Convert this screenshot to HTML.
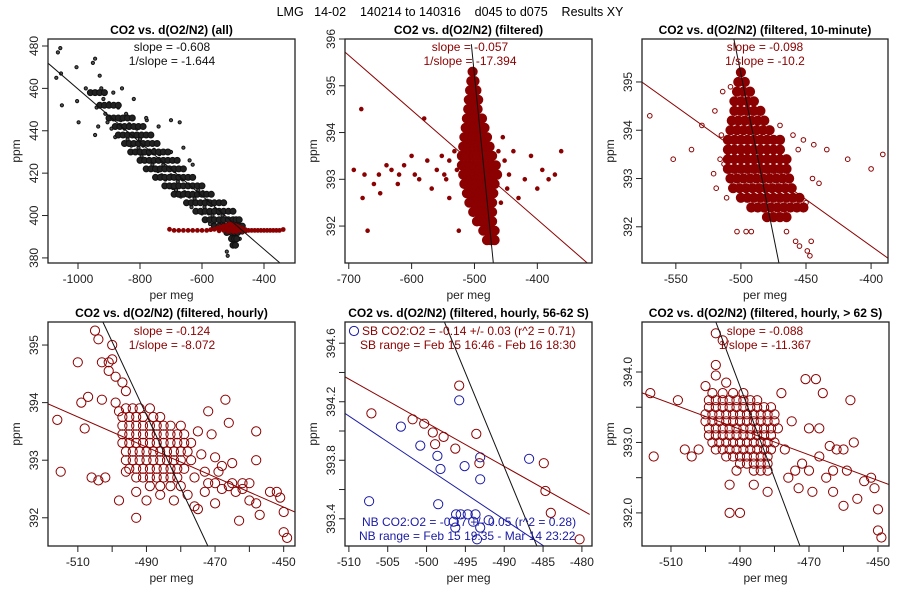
<!DOCTYPE html>
<html><head><meta charset="utf-8">
<style>
html,body{margin:0;padding:0;background:#fff;}
svg{display:block;font-family:"Liberation Sans",sans-serif;}
</style></head>
<body>
<svg id="chart" width="900" height="600" viewBox="0 0 900 600" xmlns="http://www.w3.org/2000/svg">
<rect x="0" y="0" width="900" height="600" fill="#fff"/>
<text x="450" y="16" text-anchor="middle" font-size="12.5" fill="#000" xml:space="preserve">LMG   14-02    140214 to 140316    d045 to d075    Results XY</text>
</svg>
<script>
// ---------- data ----------
const p1All = [[-1065,477],[-1057,479],[-1070,465],[-1055,467],[-1052,452],[-1005,470],[-1003,454],[-998,444],[-975,460],[-952,472],[-945,474],[-940,451],[-945,438],[-935,442],[-930,466],[-925,460],[-918,455],[-912,448],[-905,444],[-900,453],[-892,441],[-886,458],[-880,437],[-870,451],[-862,445],[-858,460],[-850,441],[-845,448],[-840,436],[-835,443],[-828,433],[-822,438],[-815,430],[-810,441],[-805,432],[-800,436],[-795,428],[-790,433],[-784,426],[-778,445],[-772,429],[-766,434],[-760,424],[-755,431],[-748,426],[-742,421],[-737,429],[-730,419],[-725,424],[-718,417],[-712,422],[-706,414],[-700,445],[-700,419],[-694,413],[-688,421],[-684,412],[-678,416],[-672,444],[-668,409],[-662,417],[-656,411],[-650,406],[-645,414],[-640,409],[-634,404],[-628,418],[-624,408],[-618,402],[-612,412],[-606,406],[-600,401],[-597,411],[-592,404],[-588,398],[-583,407],[-578,401],[-574,396],[-570,405],[-566,400],[-562,396],[-558,403],[-554,398],[-550,395],[-546,401],[-542,397],[-538,394],[-534,400],[-530,396],[-526,393],[-522,398],[-518,395],[-514,392],[-510,397],[-506,394],[-502,391],[-498,396],[-494,393],[-490,390],[-486,395],[-482,392],[-478,389],[-474,394],[-470,392],[-495,386],[-500,388],[-520,383],[-517,381],[-640,426],[-630,424],[-660,432],[-700,430],[-740,442],[-780,446],[-820,455]];
const p1CoreRows = [
 [458,[-960,-945,-930,-915]],[452,[-930,-915,-900,-885,-870]],[446,[-900,-885,-870,-855,-840,-825]],
 [442,[-880,-865,-850,-835,-820,-805,-790]],[438,[-870,-855,-840,-825,-810,-795,-780,-765]],
 [434,[-850,-835,-820,-805,-790,-775,-760,-745]],[430,[-830,-815,-800,-785,-770,-755,-740,-725,-710]],
 [426,[-800,-785,-770,-755,-740,-725,-710,-695,-680]],[422,[-780,-765,-750,-735,-720,-705,-690,-675,-660]],
 [418,[-750,-735,-720,-705,-690,-675,-660,-645,-630]],[414,[-720,-705,-690,-675,-660,-645,-630,-615,-600]],
 [410,[-690,-675,-660,-645,-630,-615,-600,-585,-570]],[406,[-650,-635,-620,-605,-590,-575,-560,-545,-530]],
 [402,[-620,-605,-590,-575,-560,-545,-530,-515,-500]],[398,[-590,-575,-560,-545,-530,-515,-500,-490,-480]],
 [395,[-560,-545,-530,-515,-500,-490,-480,-470]],[392,[-520,-505,-495,-485]],[389,[-505,-495,-488]],[386,[-500,-492]]];
const p1Filt = [[-705,393.5],[-690,393],[-675,393],[-660,393],[-645,393],[-630,393],[-615,393],[-600,393],[-585,393],[-572,393.3],[-560,393.5],[-550,394],[-540,394.5],[-530,395],[-520,395.5],[-510,396],[-500,395.8],[-490,395.2],[-480,394.5],[-470,393.8],[-460,393.3],[-450,393],[-440,393],[-430,393],[-420,393],[-410,393],[-400,393],[-390,393],[-380,393],[-370,393],[-360,393],[-350,393],[-338,393.4],[-530,393],[-515,392.5],[-500,392.5],[-490,392.5],[-520,394],[-505,394.5],[-495,394],[-480,393],[-470,392.8],[-545,392.8],[-510,393.5],[-485,393.8],[-460,392.6]];
const p1Slope = -0.126, p1Int = 333.7;

const p2Pts = [[-692,393.2],[-680,394.5],[-678,392.6],[-675,393.1],[-670,391.9],[-660,392.9],[-652,393.1],[-640,393.3],[-632,393.2],[-622,392.9],[-612,393.3],[-600,393.5],[-595,393.1],[-588,393.0],[-580,394.3],[-575,393.4],[-568,392.8],[-560,393.2],[-552,393.5],[-545,393.0],[-540,392.6],[-532,393.6],[-528,393.2],[-445,393.1],[-438,393.6],[-430,392.6],[-420,393.0],[-410,393.5],[-400,392.8],[-392,393.2],[-382,393.0],[-372,393.1],[-362,393.6],[-452,393.4],[-458,392.5],[-470,391.8],[-525,391.9],[-540,393.4],[-548,393.1],[-462,393.6],[-455,393.9],[-448,392.8],[-620,393.1],[-650,392.7]];
const p2CoreRows = [
 [395.3,[-503]],[395.1,[-505,-500]],[394.9,[-507,-502,-497]],[394.7,[-509,-504,-499,-494]],[394.5,[-510,-505,-500,-495]],
 [394.3,[-512,-506,-500,-494,-488]],[394.1,[-514,-508,-502,-496,-490,-484]],[393.9,[-516,-510,-504,-498,-492,-486,-480]],
 [393.7,[-518,-512,-506,-500,-494,-488,-482,-476]],[393.5,[-520,-514,-508,-502,-496,-490,-484,-478,-472]],
 [393.3,[-520,-514,-508,-502,-496,-490,-484,-478,-472,-466]],[393.1,[-518,-512,-506,-500,-494,-488,-482,-476,-470,-464]],
 [392.9,[-516,-510,-504,-498,-492,-486,-480,-474,-468]],[392.7,[-512,-506,-500,-494,-488,-482,-476,-470]],
 [392.5,[-508,-502,-496,-490,-484,-478,-472]],[392.3,[-502,-496,-490,-484,-478,-472]],[392.1,[-496,-490,-484,-478,-472]],
 [391.9,[-486,-480,-474,-468]],[391.7,[-480,-474,-468]]];
const p2Slope = -0.0117, p2Int = 387.46;
const p2Black = [[-505,395.89],[-470,391.21]];

const p3Pts = [[-570,394.3],[-552,393.4],[-538,393.6],[-530,394.1],[-520,394.4],[-521,393.1],[-519,392.8],[-514,394.8],[-513,393.3],[-511,392.6],[-508,394.9],[-506,392.8],[-503,391.9],[-496,391.9],[-492,391.9],[-465,391.9],[-458,391.7],[-455,391.6],[-449,391.5],[-446,391.7],[-447,391.4],[-456,393.6],[-444,393.7],[-434,393.6],[-418,393.4],[-400,393.2],[-391,393.5],[-445,393.0],[-440,392.9],[-452,393.8],[-450,392.5],[-460,393.9],[-470,394.1],[-515,393.9],[-516,393.4]];
const p3CoreRows = [
 [395.2,[-500]],[395.0,[-502,-497]],[394.8,[-503,-498,-493]],[394.6,[-505,-500,-495,-490]],[394.4,[-505,-500,-495,-490,-485]],
 [394.2,[-507,-502,-497,-492,-487,-482]],[394.0,[-508,-503,-498,-493,-488,-483,-478]],
 [393.8,[-510,-505,-500,-495,-490,-485,-480,-475,-470]],[393.6,[-510,-505,-500,-495,-490,-485,-480,-475,-470]],
 [393.4,[-510,-505,-500,-495,-490,-485,-480,-475,-470,-465]],[393.2,[-510,-505,-500,-495,-490,-485,-480,-475,-470,-465]],
 [393.0,[-508,-503,-498,-493,-488,-483,-478,-473,-468,-463]],[392.8,[-506,-501,-496,-491,-486,-481,-476,-471,-466,-461]],
 [392.6,[-500,-495,-490,-485,-480,-475,-470,-465,-460,-455]],[392.4,[-492,-487,-482,-477,-472,-467,-462,-457,-452]],
 [392.2,[-480,-475,-470,-465]]];
const p3Slope = -0.0193, p3Int = 383.88;
const p3Black = [[-505.4,395.89],[-470.8,391.25]];

const p4Pts = [[-516,393.7],[-515,392.8],[-510,394.7],[-509,394.0],[-508,393.55],[-507,394.1],[-506,392.7],[-504,392.65],[-505,395.25],[-504,395.1],[-503,394.7],[-503,394.05],[-502,392.7],[-501,394.7],[-501,394.55],[-500,395.0],[-500,394.75],[-499,394.45],[-499,394.0],[-498,393.85],[-498,392.3],[-497,394.35],[-496,394.2],[-496,392.8],[-493,392.45],[-493,392.0],[-490,392.3],[-486,392.4],[-482,392.3],[-476,392.7],[-475,393.5],[-475,392.15],[-474,393.1],[-473,392.45],[-472,393.85],[-472,392.6],[-471,393.45],[-470,393.05],[-470,392.25],[-469,392.8],[-468,392.5],[-467,394.05],[-466,393.65],[-466,392.55],[-465,392.95],[-464,392.45],[-463,391.95],[-462,392.6],[-460,392.3],[-458,393.5],[-458,393.0],[-458,392.25],[-457,392.05],[-454,392.45],[-452,392.45],[-451,392.35],[-450,392.1],[-450,391.75],[-449,391.65],[-478,392.4],[-476,392.2],[-473,392.8],[-470,392.6],[-468,392.9],[-465,392.6],[-462,392.5],[-460,392.6]];
const p4CoreRows = [
 [393.9,[-496,-494,-492,-489]],[393.75,[-497,-495,-493,-491,-488,-486]],[393.6,[-497,-495,-493,-491,-489,-487,-485,-483,-480]],
 [393.45,[-497,-495,-493,-491,-489,-487,-485,-483,-481,-479]],[393.3,[-497,-495,-493,-491,-489,-487,-485,-483,-481,-479,-477]],
 [393.15,[-496,-494,-492,-490,-488,-486,-484,-482,-480,-478]],[393.0,[-496,-494,-492,-490,-488,-486,-484,-482,-480,-477]],
 [392.85,[-495,-493,-491,-489,-487,-485,-483,-481,-479]],[392.7,[-493,-491,-489,-487,-485,-483,-481]],[392.55,[-489,-486,-483,-480]]];
const p4Slope = -0.0261, p4Int = 380.44;
const p4Black = [[-502.7,395.4],[-472.1,391.51]];

const p5Red = [[-507.1,394.12],[-501.8,394.08],[-500.3,394.05],[-499.2,393.99],[-497.8,393.96],[-498.9,393.91],[-495.8,394.31],[-493.6,393.98],[-496.3,393.88],[-493.2,393.78],[-484.9,393.78],[-484.7,393.59],[-484.0,393.44],[-480.3,393.26]];
const p5Blue = [[-507.4,393.52],[-503.3,394.03],[-500.8,393.90],[-498.6,393.83],[-498.2,393.74],[-498.5,393.50],[-495.8,394.21],[-495.1,393.76],[-493.1,393.82],[-493.1,393.67],[-486.8,393.81],[-496.2,393.43],[-495.6,393.43],[-494.7,393.43],[-493.7,393.43],[-494.0,393.38],[-496.3,393.34],[-493.1,393.34],[-493.5,393.26],[-492.0,393.39],[-496.5,393.38]];
const p5RedFit = [[-510.5,394.37],[-479,393.43]];
const p5BlueFit = [[-510.5,394.12],[-484.9,393.214]];
const p5Black = [[-497.7,394.745],[-485.8,393.214]];

const p6Pts = [[-516,393.7],[-515,392.8],[-508,393.6],[-506,392.9],[-504,392.8],[-502,392.9],[-500,393.8],[-497,394.1],[-497,393.95],[-494,393.85],[-493,392.4],[-491,392.6],[-490,392.0],[-486,392.4],[-482,392.3],[-476,392.5],[-473,392.35],[-472,392.7],[-471,393.9],[-470,393.2],[-470,392.6],[-469,392.3],[-468,393.9],[-467,392.8],[-466,393.7],[-465,392.5],[-464,392.95],[-463,392.3],[-462,392.9],[-460,392.1],[-459,392.6],[-458,393.6],[-457,393.0],[-456,392.2],[-454,392.45],[-452,392.5],[-451,392.35],[-450,392.05],[-450,391.75],[-449,391.65],[-497,394.55],[-495,394.45],[-493,392.0],[-478,393.7],[-475,393.3],[-477,392.9],[-474,392.6],[-467,393.2],[-463,392.6],[-460,392.9]];
const p6CoreRows = [
 [393.7,[-498,-495,-492,-489]],[393.6,[-499,-497,-495,-493,-491,-489,-487,-485]],[393.5,[-499,-497,-495,-493,-491,-489,-487,-485,-483,-481]],
 [393.4,[-500,-498,-496,-494,-492,-490,-488,-486,-484,-482,-480]],[393.3,[-500,-498,-496,-494,-492,-490,-488,-486,-484,-482,-480]],
 [393.2,[-499,-497,-495,-493,-491,-489,-487,-485,-483,-481,-479]],[393.1,[-499,-497,-495,-493,-491,-489,-487,-485,-483,-481]],
 [393.0,[-498,-496,-494,-492,-490,-488,-486,-484,-482,-480]],[392.9,[-497,-495,-493,-491,-489,-487,-485,-483,-481]],
 [392.8,[-494,-492,-490,-488,-486,-484,-482]],[392.7,[-490,-488,-486,-484,-482]],[392.6,[-486,-484,-482]]];
const p6Slope = -0.0182, p6Int = 384.27;
const p6Black = [[-497,394.71],[-472.6,391.53]];

// ---------- drawing ----------
const NS = "http://www.w3.org/2000/svg";
const svg = document.getElementById('chart');
const RED = "#8b0000", BLUE = "#1a1aa6";
function mk(tag, attrs, parent){ const e=document.createElementNS(NS,tag); for(const k in attrs) e.setAttribute(k,attrs[k]); (parent||svg).appendChild(e); return e; }
function rowsToPts(rows){ const out=[]; rows.forEach(r=>r[1].forEach(x=>out.push([x,r[0]]))); return out; }

function panel(cfg){
  const g = mk('g',{});
  
  
  const L=cfg.box[0],T=cfg.box[1],R=cfg.box[2],B=cfg.box[3];
  const sx = v => L + (v-cfg.xd[0])/(cfg.xd[1]-cfg.xd[0])*(R-L);
  const sy = v => T + (cfg.yd[1]-v)/(cfg.yd[1]-cfg.yd[0])*(B-T);
  const cid = 'clip-'+cfg.name;
  const cp = mk('clipPath',{id:cid},g); mk('rect',{x:L,y:T,width:R-L,height:B-T},cp);
  const plot = mk('g',{'clip-path':'url(#'+cid+')'},g);
  
  
  (cfg.series||[]).forEach(s=>{
    s.pts.forEach(p=>{
      const c = mk('circle',{cx:sx(p[0]).toFixed(1),cy:sy(p[1]).toFixed(1),r:s.r,fill:s.fill||'none',stroke:s.color,'stroke-width':s.sw||1},plot);
      
      
    });
  });
  (cfg.lines||[]).forEach(l=>{
    let a,b;
    if(l.seg){ a=l.seg[0]; b=l.seg[1]; }
    else { a=[cfg.xd[0], l.slope*cfg.xd[0]+l.int]; b=[cfg.xd[1], l.slope*cfg.xd[1]+l.int]; }
    const ln = mk('line',{x1:sx(a[0]),y1:sy(a[1]),x2:sx(b[0]),y2:sy(b[1]),stroke:l.color,'stroke-width':1},plot);
    
    
  });
  const fr = mk('rect',{x:L,y:T,width:R-L,height:B-T,fill:'none',stroke:'#222','stroke-width':1.3},g);
  
  
  cfg.xt.forEach((v,i)=>{
    const x=sx(v);
    mk('line',{x1:x,y1:B,x2:x,y2:B+6,stroke:'#222','stroke-width':1},g);
    if(cfg.xl[i]){
      const t=mk('text',{x:x,y:B+20,'text-anchor':'middle','font-size':12,fill:'#222'},g);
      t.textContent=cfg.xl[i];
      
      
    }
  });
  cfg.yt.forEach((v,i)=>{
    const y=sy(v);
    mk('line',{x1:L,y1:y,x2:L-6,y2:y,stroke:'#222','stroke-width':1},g);
    if(cfg.yl[i]){
      const t=mk('text',{x:L-10,y:y,'text-anchor':'middle','font-size':12,fill:'#222',transform:'rotate(-90 '+(L-10)+' '+y+')'},g);
      t.textContent=cfg.yl[i];
      
      
    }
  });
  const tt=mk('text',{x:(L+R)/2,y:T-5,'text-anchor':'middle','font-size':12,'font-weight':'bold',fill:'#000'},g);
  tt.textContent=cfg.title;
  
  
  const xa=mk('text',{x:(L+R)/2,y:B+36,'text-anchor':'middle','font-size':12,fill:'#222'},g);
  xa.textContent='per meg';
  
  
  const ya=mk('text',{x:L-28,y:(T+B)/2,'text-anchor':'middle','font-size':12,fill:'#222',transform:'rotate(-90 '+(L-28)+' '+((T+B)/2)+')'},g);
  ya.textContent='ppm';
  
  
  (cfg.notes||[]).forEach(n=>{
    const t=mk('text',{x:n.x,y:n.y,'text-anchor':n.anchor||'middle','font-size':12,fill:n.color},g);
    t.setAttribute('xml:space','preserve');
    t.textContent=n.text;
    
    
  });
  return {sx,sy,g};
}

panel({name:'panel-all',box:[48,39,295,263],xd:[-1096.8,-300],yd:[377.6,483.3],
  title:'CO2 vs. d(O2/N2) (all)',xt:[-1000,-800,-600,-400],xl:['-1000','-800','-600','-400'],
  yt:[380,400,420,440,460,480],yl:['380','400','420','440','460','480'],
  series:[{name:'all-point',pts:p1All,r:1.6,color:'#111',fill:'#555'},
          {name:'all-point-dense',pts:rowsToPts(p1CoreRows),r:3.0,color:'#111',fill:'#222'},
          {name:'filtered-point',pts:p1Filt,r:1.9,color:RED,fill:RED}],
  lines:[{name:'fit-line',slope:p1Slope,int:p1Int,color:'#111'}],
  notes:[{name:'slope-label',x:172,y:51,text:'slope = -0.608',color:'#111'},{name:'inverse-slope-label',x:172,y:65,text:'1/slope = -1.644',color:'#111'}]});

panel({name:'panel-filtered',box:[345,39,592,263],xd:[-706,-313],yd:[391.21,396],
  title:'CO2 vs. d(O2/N2) (filtered)',xt:[-700,-600,-500,-400],xl:['-700','-600','-500','-400'],
  yt:[392,393,394,395,396],yl:['392','393','394','395','396'],
  series:[{name:'filtered-point',pts:p2Pts,r:1.8,color:RED,fill:RED},
          {name:'filtered-point-dense',pts:rowsToPts(p2CoreRows),r:4.6,color:RED,fill:RED}],
  lines:[{name:'fit-line',slope:p2Slope,int:p2Int,color:RED},{name:'inverse-fit-line',seg:p2Black,color:'#111'}],
  notes:[{name:'slope-label',x:470,y:51,text:'slope = -0.057',color:RED},{name:'inverse-slope-label',x:470,y:65,text:'1/slope = -17.394',color:RED}]});

panel({name:'panel-10-minute',box:[642,39,888,263],xd:[-576,-387],yd:[391.25,395.89],
  title:'CO2 vs. d(O2/N2) (filtered, 10-minute)',xt:[-550,-500,-450,-400],xl:['-550','-500','-450','-400'],
  yt:[392,393,394,395],yl:['392','393','394','395'],
  series:[{name:'ten-minute-point',pts:p3Pts,r:2.3,color:RED},
          {name:'ten-minute-point-dense',pts:rowsToPts(p3CoreRows),r:4.6,color:RED,fill:RED}],
  lines:[{name:'fit-line',slope:p3Slope,int:p3Int,color:RED},{name:'inverse-fit-line',seg:p3Black,color:'#111'}],
  notes:[{name:'slope-label',x:765,y:51,text:'slope = -0.098',color:RED},{name:'inverse-slope-label',x:765,y:65,text:'1/slope = -10.2',color:RED}]});

panel({name:'panel-hourly',box:[48,322,295,546],xd:[-518.7,-446.7],yd:[391.51,395.4],
  title:'CO2 vs. d(O2/N2) (filtered, hourly)',xt:[-510,-500,-490,-480,-470,-460,-450],xl:['-510','','-490','','-470','','-450'],
  yt:[392,393,394,395],yl:['392','393','394','395'],
  series:[{name:'hourly-point',pts:p4Pts.concat(rowsToPts(p4CoreRows)),r:4.6,color:RED}],
  lines:[{name:'fit-line',slope:p4Slope,int:p4Int,color:RED},{name:'inverse-fit-line',seg:p4Black,color:'#111'}],
  notes:[{name:'slope-label',x:172,y:335,text:'slope = -0.124',color:RED},{name:'inverse-slope-label',x:172,y:349,text:'1/slope = -8.072',color:RED}]});

const p5 = panel({name:'panel-hourly-56-62s',box:[345,322,592,546],xd:[-510.5,-478.7],yd:[393.214,394.745],
  title:'CO2 vs. d(O2/N2) (filtered, hourly, 56-62 S)',xt:[-510,-505,-500,-495,-490,-485,-480],xl:['-510','-505','-500','-495','-490','-485','-480'],
  yt:[393.4,393.6,393.8,394.0,394.2,394.4,394.6],yl:['393.4','','393.8','','394.2','','394.6'],
  series:[{name:'sb-point',pts:p5Red,r:4.6,color:RED},{name:'nb-point',pts:p5Blue,r:4.6,color:BLUE}],
  lines:[{name:'sb-fit-line',seg:p5RedFit,color:RED},{name:'nb-fit-line',seg:p5BlueFit,color:BLUE},{name:'inverse-fit-line',seg:p5Black,color:'#111'}],
  notes:[{name:'sb-ratio-label',x:362,y:335,anchor:'start',text:'SB CO2:O2 = -0.14 +/- 0.03 (r^2 = 0.71)',color:RED},
         {name:'sb-range-label',x:360,y:349,anchor:'start',text:'SB range = Feb 15 16:46 - Feb 16 18:30',color:RED},
         {name:'nb-ratio-label',x:362,y:526,anchor:'start',text:'NB CO2:O2 = -0.17 +/- 0.05 (r^2 = 0.28)',color:BLUE},
         {name:'nb-range-label',x:359,y:540,anchor:'start',text:'NB range = Feb 15 19:35 - Mar 14 23:22',color:BLUE}]});
const lg = mk('circle',{cx:354,cy:331,r:4.6,fill:'none',stroke:BLUE,'stroke-width':1},p5.g);



panel({name:'panel-hourly-over-62s',box:[642,322,889,546],xd:[-518.4,-446.8],yd:[391.53,394.71],
  title:'CO2 vs. d(O2/N2) (filtered, hourly, > 62 S)',xt:[-510,-500,-490,-480,-470,-460,-450],xl:['-510','','-490','','-470','','-450'],
  yt:[392,392.5,393,393.5,394],yl:['392.0','','393.0','','394.0'],
  series:[{name:'hourly-point',pts:p6Pts.concat(rowsToPts(p6CoreRows)),r:4.6,color:RED}],
  lines:[{name:'fit-line',slope:p6Slope,int:p6Int,color:RED},{name:'inverse-fit-line',seg:p6Black,color:'#111'}],
  notes:[{name:'slope-label',x:765,y:335,text:'slope = -0.088',color:RED},{name:'inverse-slope-label',x:765,y:349,text:'1/slope = -11.367',color:RED}]});
</script>
</body></html>
